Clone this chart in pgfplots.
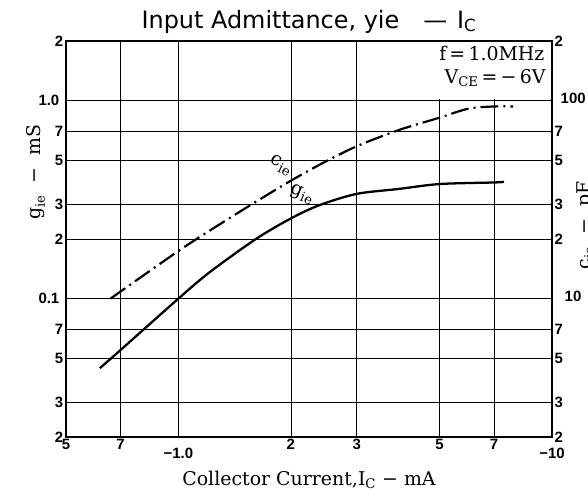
\documentclass[border=0pt]{standalone}
\usepackage{fontspec}
\setmainfont{DejaVu Serif}
\newfontfamily\titlefont{DejaVu Sans}
\newfontfamily\tickfont{Liberation Sans}
\usepackage{pgfplots}
\pgfplotsset{compat=1.18}
\usetikzlibrary{calc}
\newcommand\serifbig{\fontsize{19}{23}\selectfont}
\newcommand\tickf{\tickfont\bfseries\fontsize{15}{15}\selectfont}
\begin{document}
\begin{tikzpicture}
\begin{axis}[name=main,
  width=486bp, height=396bp, scale only axis,
  xmode=log, ymode=log,
  xmin=0.5, xmax=10, ymin=0.02, ymax=2,
  xtick={0.5,0.7,2,3,5,7},
  xticklabels={5,7,2,3,5,7},
  extra x ticks={1,10},
  extra x tick labels={−1.0,−10},
  extra x tick style={xticklabel style={yshift=-9bp}},
  xticklabel style={inner sep=2bp},
  ytick={0.02,0.03,0.05,0.07,0.2,0.3,0.5,0.7,2},
  yticklabels={2,3,5,7,2,3,5,7,2},
  extra y ticks={0.1,1},
  extra y tick labels={0.1,1.0},
  extra y tick style={yticklabel style={xshift=-4bp}},
  yticklabel style={inner sep=2.5bp},
  minor xtick={}, minor ytick={},
  grid=major,
  major grid style={black, line width=0.7pt},
  major tick length=0pt,
  axis line style={black, line width=1.1pt},
  tick label style={font=\tickf},
  title={\titlefont\fontsize{24}{24}\selectfont Input Admittance, yie\hspace{24bp}—\hspace{10bp}I\textsubscript{C}},
  title style={anchor=base, at={(0.5,1)}, yshift=7bp},
]
\addplot[black, line width=2.3pt, smooth] coordinates {
(0.616,0.0445) (0.7,0.055) (1.0,0.1) (1.21,0.1356) (1.616,0.2006) (2.0,0.254)
(2.38,0.296) (3.0,0.338) (3.89,0.358) (5.0,0.379) (7.0,0.386) (7.44,0.389)};
\fill[white] (axis cs:4.73,1.02) rectangle (axis cs:9.9,1.97);
\node[anchor=base east, font=\serifbig, xshift=-4bp, yshift=-20bp] at (rel axis cs:1,1) {f\,=\,1.0MHz};
\node[anchor=base east, font=\serifbig, xshift=-3bp, yshift=-42bp] at (rel axis cs:1,1) {V\textsubscript{CE}\,=\,−\,6V};
\node[font=\serifbig, rotate=-27] at (axis cs:1.88,0.47) {c\textsubscript{ie}};
\node[font=\serifbig, rotate=-22] at (axis cs:2.14,0.335) {g\textsubscript{ie}};
\end{axis}
\begin{axis}[
  width=486bp, height=396bp, scale only axis,
  xmode=log, ymode=log,
  xmin=0.5, xmax=10, ymin=2, ymax=200,
  axis x line=none, axis y line*=right,
  ytick={2,3,5,7,20,30,50,70,200},
  yticklabels={2,3,5,7,2,3,5,7,2},
  extra y ticks={10,100},
  extra y tick labels={\hspace{4bp}10,100},
  extra y tick style={yticklabel style={xshift=6bp, yshift=2bp}},
  yticklabel style={inner sep=2.5bp},
  minor ytick={},
  major tick length=0pt,
  axis line style={black, line width=1.1pt},
  tick label style={font=\tickf},
]
\addplot[black, line width=2.2pt, smooth, dash pattern=on 18bp off 5bp on 2bp off 5bp] coordinates {
(0.658,10) (1.0,17.4) (1.27,23.3) (1.606,30.7) (2.0,39.4) (2.44,48.5) (3,58.8)
(3.89,71) (5,82) (5.97,91) (7,93.4) (7.87,93.4)};
\end{axis}
\node[font=\serifbig, rotate=90, anchor=base] at ([xshift=-25bp]$(main.south west)!0.669!(main.north west)$) {g\textsubscript{ie}\ \ −\ \ mS};
\node[font=\serifbig, rotate=90, anchor=base] at ([xshift=38bp]$(main.south east)!0.535!(main.north east)$) {c\textsubscript{ie}\ \ −\ \ pF};
\node[font=\serifbig, anchor=base] at ([yshift=-48bp]$(main.south west)!0.5!(main.south east)$) {Collector Current,I\textsubscript{C} − mA};
\pgfresetboundingbox
\path[use as bounding box] ([xshift=-66bp,yshift=-56bp]main.south west) rectangle ([xshift=36bp,yshift=41bp]main.north east);
\end{tikzpicture}
\end{document}
